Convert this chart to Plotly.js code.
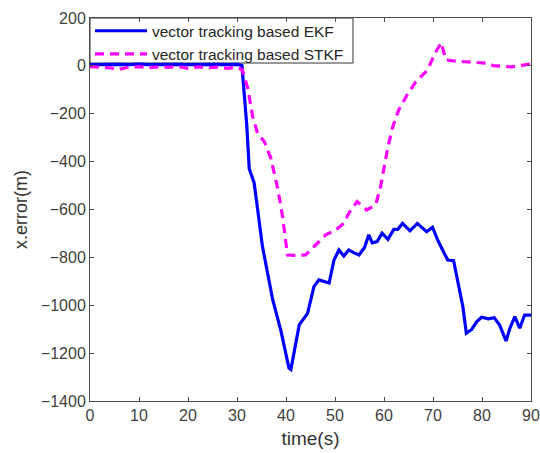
<!DOCTYPE html>
<html>
<head>
<meta charset="utf-8">
<script src="https://cdn.plot.ly/plotly-3.0.1.min.js"></script>
<style>html,body{margin:0;padding:0;background:#fff;}#chart{width:540px;height:453px;}</style>
</head>
<body>
<div id="chart"></div>
<script>
const ekfTime = [0,2,4,6,8,10,12,14,16,18,20,22,24,26,28,30,31,32,32.5,33.5,35.2,37.3,39,40.6,41,42.7,44.4,45.7,46.7,48.8,49.8,50.8,51.8,52.8,53.8,54.9,56,56.9,57.6,58.6,59.6,60.8,62,62.8,63.8,65.3,66.8,68.7,69.9,71.1,72.3,73,74.2,75.6,76.1,76.8,77.9,78.9,79.9,81.3,82.5,83.6,84.9,85.7,86.7,87.7,88.7,90];
const ekfError = [5,6,4,6,5,7,5,6,4,6,5,6,4,6,5,6,2,-250,-430,-489,-755,-978,-1110,-1262,-1268,-1082,-1034,-922,-894,-907,-811,-769,-794,-769,-780,-790,-760,-706,-739,-734,-699,-725,-683,-683,-658,-689,-658,-693,-674,-734,-783,-811,-814,-950,-1006,-1117,-1101,-1069,-1050,-1057,-1052,-1083,-1149,-1096,-1048,-1096,-1041,-1041];
const stkfTime = [0,2,4,5.7,8,10,12,14,16,18,20,22,24,26,28,30,31.1,32.2,33.2,34.2,35.6,36.9,38.3,39.3,40.3,42,44,46.4,48.1,50.1,51.8,52.8,54.5,56.5,58.3,59.3,60,60.8,61.8,63,64.7,66.5,68.9,70.4,71.7,72.6,74.5,76.5,78.5,81.3,82.3,84,86,88,90];
const stkfError = [-3,-5,-8,-15,-5,-3,-8,-4,-6,-3,-10,-4,-8,-5,-10,-6,-17,-94,-212,-282,-317,-386,-511,-630,-790,-792,-790,-741,-706,-686,-658,-616,-567,-602,-581,-505,-421,-338,-254,-184,-122,-66,-17,53,97,25,20,17,15,11,1,-2,-4,2,8];
const xTicks = [0,10,20,30,40,50,60,70,80,90];
const yTicks = [-1400,-1200,-1000,-800,-600,-400,-200,0,200];

const FONT = 'Liberation Sans, Arial, sans-serif';
const traces = [
  {x: ekfTime, y: ekfError, type: 'scatter', mode: 'lines', name: 'vector tracking based EKF',
   line: {color: '#0000ff', width: 3.2}},
  {x: stkfTime, y: stkfError, type: 'scatter', mode: 'lines', name: 'vector tracking based STKF',
   line: {color: '#ff00ff', width: 3.2, dash: '9px,6px'}}
];
const axisCommon = {
  showgrid: false, zeroline: false, showline: true, linecolor: '#4d4d4d', linewidth: 1,
  mirror: 'ticks', ticks: 'inside', ticklen: 4, tickcolor: '#4d4d4d',
  ticklabeloverflow: 'allow',
  tickfont: {family: FONT, size: 16, color: '#404040'}
};
const layout = {
  width: 540, height: 453,
  margin: {l: 90, r: 9, t: 18, b: 52},
  paper_bgcolor: '#fff', plot_bgcolor: '#fff',
  showlegend: true,
  legend: {x: 0, y: 1.01, xanchor: 'left', yanchor: 'top', bgcolor: 'rgba(0,0,0,0)',
    borderwidth: 0, tracegroupgap: 0, itemwidth: 52,
    font: {family: FONT, size: 15.5, color: '#262626'}},
  shapes: [{type: 'rect', xref: 'paper', yref: 'paper', x0: 0, x1: 0.5964, y0: 0.8825, y1: 1,
    line: {color: '#333', width: 1}, fillcolor: '#fff', layer: 'below'}],
  xaxis: Object.assign({}, axisCommon, {range: [0, 90], tickvals: xTicks,
    title: {text: 'time(s)', standoff: 8, font: {family: FONT, size: 19, color: '#333'}}}),
  yaxis: Object.assign({}, axisCommon, {range: [-1400, 200], tickvals: yTicks,
    title: {text: 'x.error(m)', standoff: 8, font: {family: FONT, size: 18, color: '#333'}}})
};
Plotly.newPlot('chart', traces, layout, {displayModeBar: false, staticPlot: true});
</script>
</body>
</html>
